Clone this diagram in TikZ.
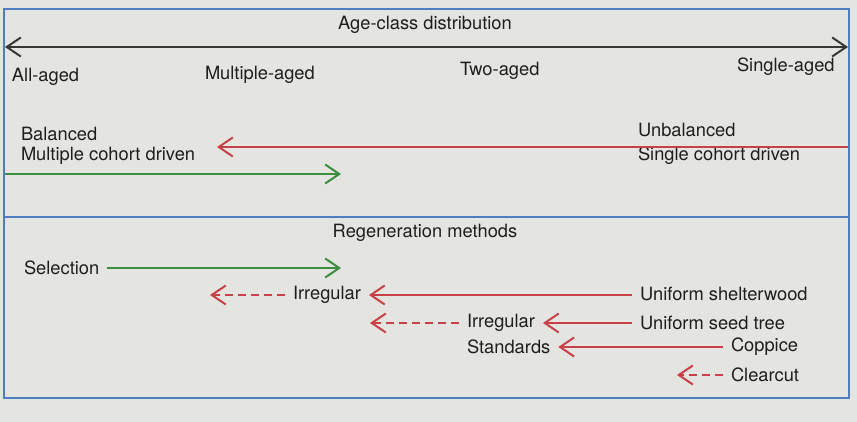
\documentclass[tikz,border=0pt]{standalone}
\usepackage{fontspec}
\setmainfont{TeX Gyre Heros}
\usetikzlibrary{arrows.meta}
\definecolor{bg}{RGB}{228,228,225}
\definecolor{boxblue}{RGB}{80,125,190}
\definecolor{axisdark}{RGB}{55,55,55}
\definecolor{arrred}{RGB}{200,65,72}
\definecolor{arrgreen}{RGB}{60,140,65}
\definecolor{txt}{RGB}{30,30,30}
\begin{document}
\begin{tikzpicture}[x=1pt,y=-1pt,
  lbl/.style={anchor=west,inner sep=0pt,outer sep=8pt,text=txt,font=\fontsize{18.3}{22}\selectfont},
  ttl/.style={inner sep=0pt,text=txt,font=\fontsize{18.3}{22}\selectfont},
  tip/.style={-{Straight Barb[length=14pt,width=19pt,line width=2pt]}},
  axisarr/.style={{Straight Barb[length=14pt,width=19pt,line width=2pt]}-{Straight Barb[length=14pt,width=19pt,line width=2pt]},line width=2pt,draw=axisdark},
  redarr/.style={tip,line width=2pt,draw=arrred},
  reddash/.style={tip,line width=2pt,draw=arrred,dash pattern=on 8pt off 5pt},
  greenarr/.style={tip,line width=2pt,draw=arrgreen},
  frame/.style={draw=boxblue,line width=1.6pt}]
\fill[bg] (0,0) rectangle (857,422);
\useasboundingbox (0,0) rectangle (857,422);
% frame
\draw[frame] (4,9) rectangle (849,398);
\draw[frame] (4,217) -- (849,217);

% top panel
\node[ttl] (title1) at (425,25) {Age-class distribution};
\coordinate (axL) at (5,47);
\coordinate (axR) at (848,47);
\draw[axisarr] (axL) -- (axR);
\node[lbl] (allaged) at (4,77) {All-aged};
\node[lbl] (multaged) at (197,75) {Multiple-aged};
\node[lbl] (twoaged) at (452,71) {Two-aged};
\node[lbl] (singaged) at (729,67) {Single-aged};

\node[lbl] (bal) at (13,134) {Balanced};
\node[lbl] (mcd) at (13,156) {Multiple cohort driven};
\node[lbl] (unbal) at (630,130) {Unbalanced};
\node[lbl] (scd) at (630,156) {Single cohort driven};
\coordinate (redS) at (848,147);
\coordinate (redE) at (217,147);
\draw[redarr] (redS) -- (redE);
\coordinate (grS) at (5,174);
\coordinate (grE) at (341,174);
\draw[greenarr] (grS) -- (grE);

% bottom panel
\node[ttl] (title2) at (425,233) {Regeneration methods};
\node[lbl] (sel) at (16,268) {Selection};
\coordinate (selE) at (341,268);
\draw[greenarr] (sel.east) -- (selE);

\node[lbl] (irr1) at (285,295) {Irregular};
\node[lbl] (ush) at (632,294) {Uniform shelterwood};
\coordinate (irr1E) at (210,295);
\draw[redarr] (ush.west |- irr1.east) -- (irr1.east);
\draw[reddash] (irr1.west) -- (irr1E);

\node[lbl] (irr2) at (459,323) {Irregular};
\node[lbl] (ust) at (632,323) {Uniform seed tree};
\coordinate (irr2E) at (370,323);
\draw[redarr] (ust.west) -- (irr2.east);
\draw[reddash] (irr2.west) -- (irr2E);

\node[lbl] (std) at (459,347) {Standards};
\node[lbl] (cop) at (723,347) {Coppice};
\draw[redarr] (cop.west) -- (std.east);

\node[lbl] (clc) at (723,375) {Clearcut};
\coordinate (clcE) at (677,375);
\draw[reddash] (clc.west) -- (clcE);
\end{tikzpicture}
\end{document}
